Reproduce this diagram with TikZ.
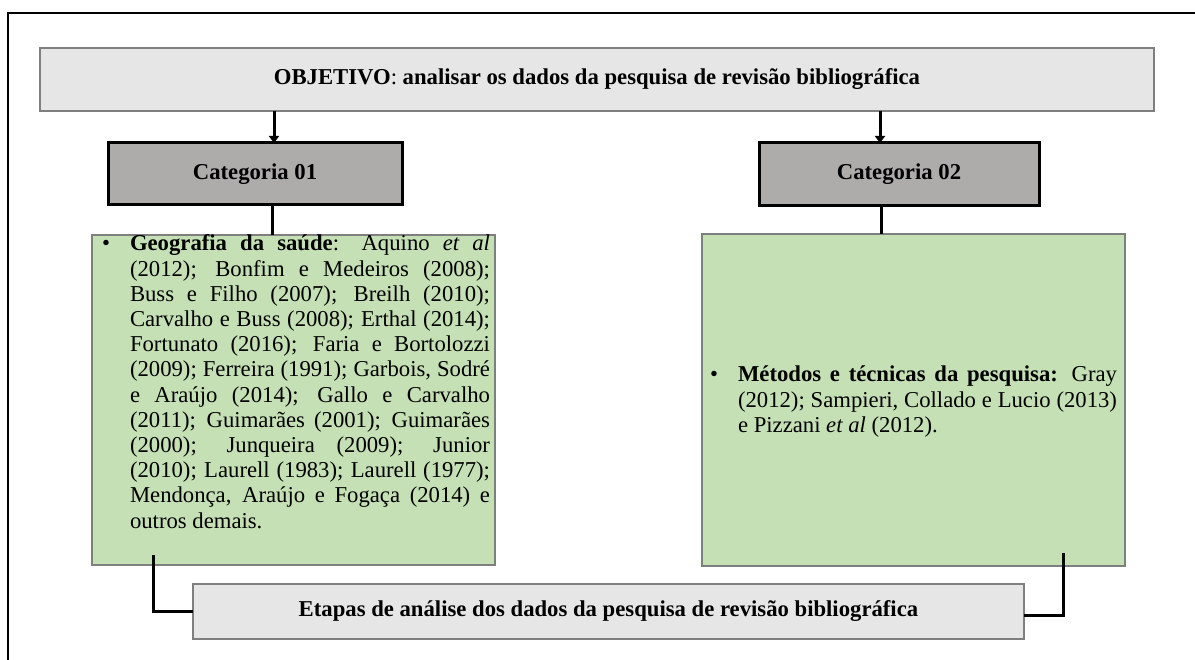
\documentclass[tikz,border=0pt]{standalone}
\usepackage{fontspec}
\setmainfont{Liberation Serif}
\usetikzlibrary{arrows.meta}
\definecolor{lgray}{HTML}{E7E6E6}
\definecolor{mgray}{HTML}{AEABAB}
\definecolor{bgray}{HTML}{7F7F7F}
\definecolor{lgreen}{HTML}{C5E0B4}
\tikzset{
  base/.style={inner sep=0pt, outer sep=0pt, font=\fontsize{22.7}{25.2}\selectfont},
  lightbox/.style={base, draw=bgray, line width=1.2pt, fill=lgray},
  catbox/.style={base, draw=black, line width=3pt, fill=mgray},
  greenbox/.style={base, draw=bgray, line width=1.2pt, fill=lgreen},
  listtext/.style={base, anchor=north west, align=justify},
  conn/.style={line width=3pt, line join=miter, draw=black},
  arr/.style={line width=3pt, draw=black, -{Triangle[width=10pt,length=7pt]}}
}
\begin{document}
\begin{tikzpicture}[x=1pt,y=-1pt]
\useasboundingbox (0,0) rectangle (1195,660);
\clip (0,0) rectangle (1195,660);
\fill[white] (0,0) rectangle (1195,660);
\draw[line width=2pt] (8,13) rectangle (1210,680);

\node[lightbox, minimum width=1114pt, minimum height=63pt] (obj) at (597,79.5)
  {\textbf{OBJETIVO}: \textbf{analisar os dados da pesquisa de revis\~ao bibliogr\'afica}};

\node[catbox, minimum width=294pt, minimum height=62pt] (cat1) at (255,174) {\textbf{Categoria 01}};
\node[catbox, minimum width=280pt, minimum height=63pt] (cat2) at (899,174.5) {\textbf{Categoria 02}};

\node[greenbox, minimum width=403pt, minimum height=330pt] (g1) at (293.5,400) {};
\node[greenbox, minimum width=423pt, minimum height=332pt] (g2) at (913.5,400) {};

\node[listtext, text width=360pt] (t1) at (130,233) {\rule{0pt}{18pt}\llap{\textbullet\hspace{20pt}}\textbf{Geografia da sa\'ude}: Aquino \textit{et al}\linebreak
(2012); Bonfim e Medeiros (2008);\linebreak
Buss e Filho (2007); Breilh (2010);\linebreak
Carvalho e Buss (2008); Erthal (2014);\linebreak
Fortunato (2016); Faria e Bortolozzi\linebreak
(2009); Ferreira (1991); Garbois, Sodr\'e\linebreak
e Ara\'ujo (2014); Gallo e Carvalho\linebreak
(2011); Guimar\~aes (2001); Guimar\~aes\linebreak
(2000); Junqueira (2009); Junior\linebreak
(2010); Laurell (1983); Laurell (1977);\linebreak
Mendon\c{c}a, Ara\'ujo e Foga\c{c}a (2014) e\linebreak
outros demais.};

\node[listtext, text width=379pt] (t2) at (738,364) {\rule{0pt}{18pt}\llap{\textbullet\hspace{20pt}}\textbf{M\'etodos e t\'ecnicas da pesquisa:} Gray\linebreak
(2012); Sampieri, Collado e Lucio (2013)\linebreak
e Pizzani \textit{et al} (2012).};

\node[lightbox, minimum width=831pt, minimum height=55pt] (et) at (608.5,611.5)
  {\textbf{Etapas de an\'alise dos dados da pesquisa de revis\~ao bibliogr\'afica}};

\coordinate (a1) at (274,0);
\coordinate (a2) at (880,0);
\coordinate (l1) at (272,0);
\coordinate (l2) at (881,0);
\coordinate (s1) at (153,555);
\coordinate (s2) at (1063,553);

\draw[arr] (obj.south -| a1) -- (cat1.north -| a1);
\draw[arr] (obj.south -| a2) -- (cat2.north -| a2);
\draw[conn] (cat1.south -| l1) -- (g1.north -| l1);
\draw[conn] (cat2.south -| l2) -- (g2.north -| l2);
\draw[conn] (s1) |- (et.west);
\draw[conn] (s2) |- ([yshift=-3.5pt]et.east);
\end{tikzpicture}
\end{document}
